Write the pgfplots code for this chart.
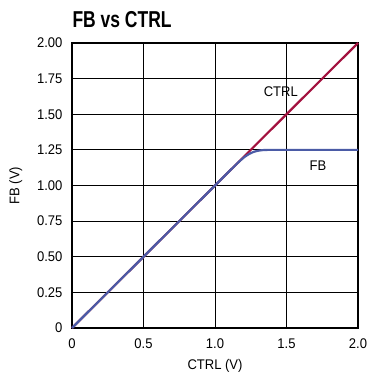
\documentclass[border=0pt]{standalone}
\usepackage{fontspec}
\setmainfont{Liberation Sans}[FakeStretch=0.93]
\newfontfamily\titlefont{Liberation Sans}[FakeStretch=0.76]
\usepackage{pgfplots}
\pgfplotsset{compat=1.18}
\definecolor{ctrlred}{HTML}{A3123F}
\definecolor{fbblue}{HTML}{4B5BA6}
\begin{document}
\begin{tikzpicture}
\begin{axis}[
  scale only axis, width=286pt, height=285pt,
  xmin=0, xmax=2, ymin=0, ymax=2,
  xtick={0,0.5,1,1.5,2}, xticklabels={0,0.5,1.0,1.5,2.0},
  ytick={0,0.25,0.5,0.75,1,1.25,1.5,1.75,2},
  yticklabels={0,0.25,0.50,0.75,1.00,1.25,1.50,1.75,2.00},
  grid=major, major grid style={black, line width=0.9pt},
  axis line style={black, line width=1.4pt},
  major tick length=0pt,
  tick label style={font=\fontsize{14}{14}\selectfont},
  /pgf/number format/assume math mode=true,
  xticklabel style={yshift=-7pt},
  yticklabel style={xshift=-6pt},
  xlabel={CTRL (V)}, ylabel={FB (V)},
  label style={font=\fontsize{14}{14}\selectfont},
  xlabel style={yshift=-4pt},
  ylabel style={yshift=8pt},
  clip=false,
]
\addplot[ctrlred, line width=2.2pt] coordinates {(0,0) (2,2)};
\addplot[fbblue, line width=2.2pt] coordinates {
(0,0) (1.15,1.15) (1.18,1.178) (1.21,1.203) (1.24,1.222) (1.27,1.236) (1.30,1.244) (1.33,1.248) (1.37,1.25) (2,1.25)};
\node[font=\fontsize{14}{14}\selectfont] at (axis cs:1.46,1.66) {CTRL};
\node[font=\fontsize{14}{14}\selectfont] at (axis cs:1.72,1.14) {FB};
\end{axis}
\node[anchor=base west, font=\fontsize{23}{23}\selectfont\titlefont\bfseries] at (-3pt,300pt) {FB vs CTRL};
\path[use as bounding box] (-72pt,-49pt) rectangle (306pt,328pt);
\end{tikzpicture}
\end{document}
